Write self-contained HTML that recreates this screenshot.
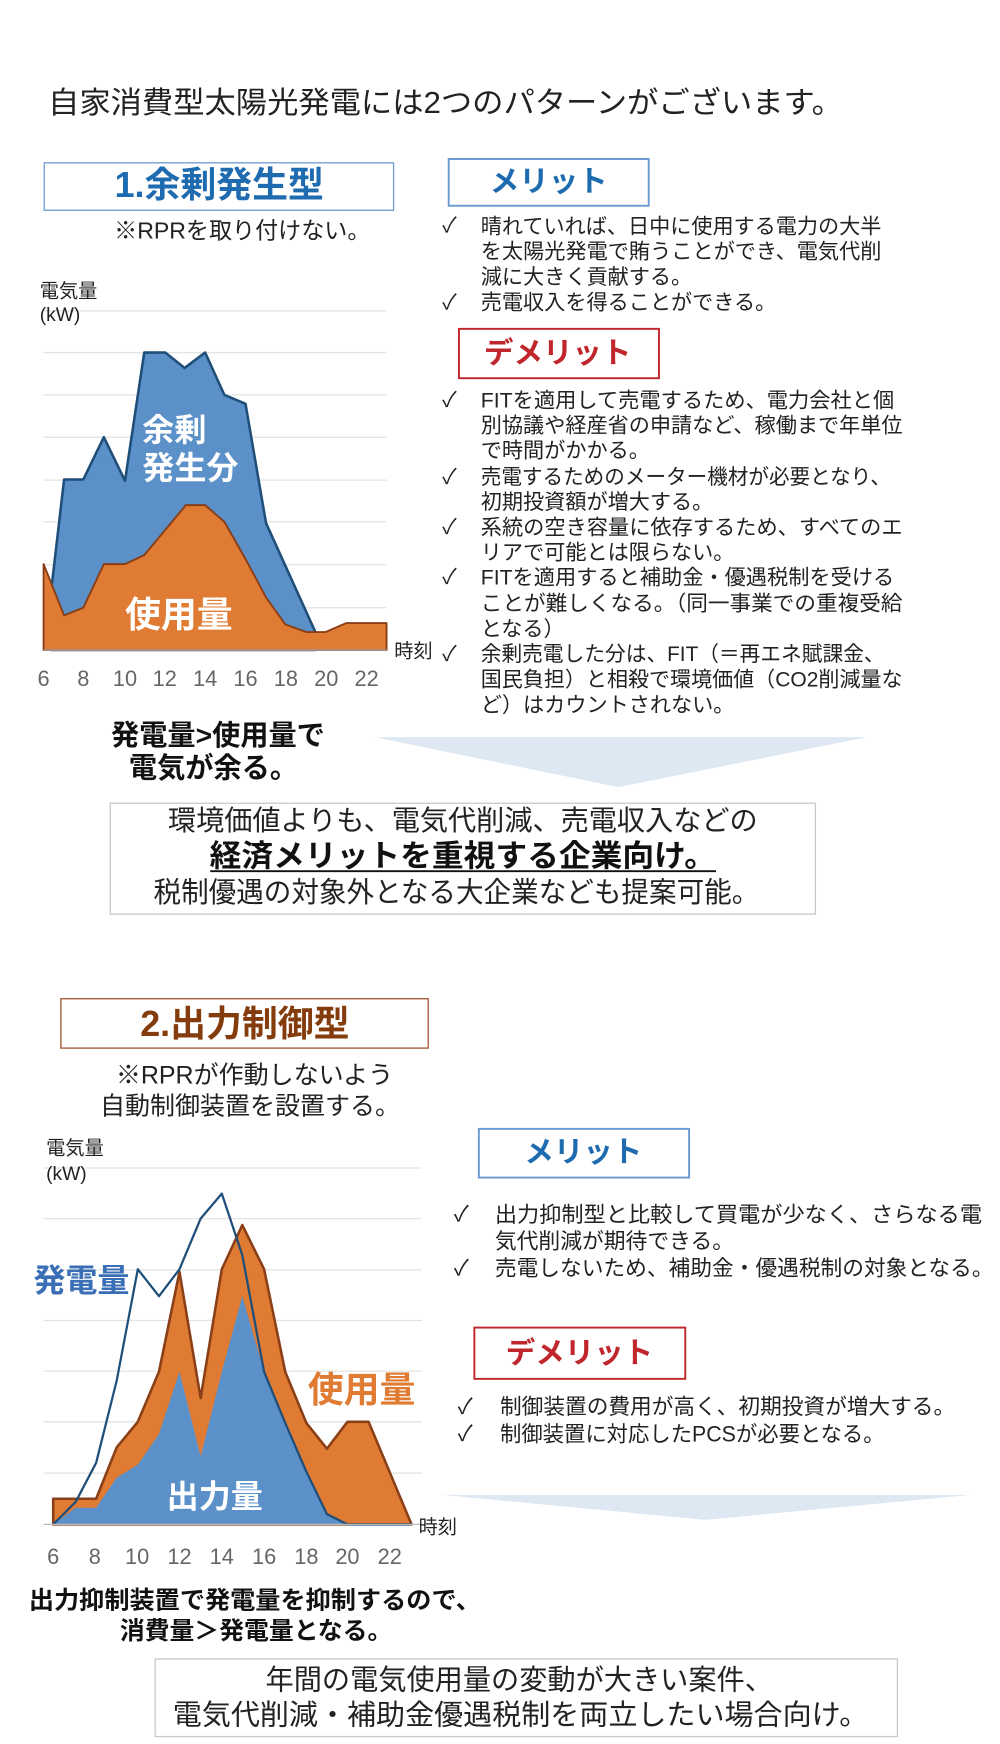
<!DOCTYPE html>
<html><head><meta charset="utf-8"><style>
html,body{margin:0;padding:0;background:#fff;}
body{width:1000px;height:1744px;position:relative;overflow:hidden;font-family:"Liberation Sans","Noto Sans CJK JP",sans-serif;}
svg{position:absolute;left:0;}
text{font-family:"Liberation Sans","Noto Sans CJK JP",sans-serif;}
</style></head><body>
<svg style="top:0" width="1000" height="800" viewBox="0 0 1560 1248">
<text x="75" y="176" font-size="47" fill="#222" textLength="1240" lengthAdjust="spacingAndGlyphs">自家消費型太陽光発電には2つのパターンがございます。</text>
<rect x="69" y="254" width="545" height="74" fill="#fff" stroke="#6a9ad0" stroke-width="2"/>
<text x="342" y="307" font-size="56" font-weight="bold" fill="#1f6bb0" text-anchor="middle">1.余剰発生型</text>
<text x="378" y="372" font-size="36" fill="#222" text-anchor="middle">※RPRを取り付けない。</text>
<rect x="700" y="248" width="312" height="73" fill="#fff" stroke="#6a9ad0" stroke-width="3"/>
<text x="856" y="299" font-size="46" font-weight="bold" fill="#1f6bb0" text-anchor="middle">メリット</text>
<g font-size="33" fill="#222">
<text x="690" y="362">✓</text><text x="750" y="364" textLength="625" lengthAdjust="spacingAndGlyphs">晴れていれば、日中に使用する電力の大半</text>
<text x="750" y="403" textLength="625" lengthAdjust="spacingAndGlyphs">を太陽光発電で賄うことができ、電気代削</text>
<text x="750" y="443">減に大きく貢献する。</text>
<text x="690" y="482">✓</text><text x="750" y="483">売電収入を得ることができる。</text>
</g>
<rect x="716" y="513" width="312" height="77" fill="#fff" stroke="#c0272d" stroke-width="3"/>
<text x="870" y="566" font-size="46" font-weight="bold" fill="#c0272d" text-anchor="middle">デメリット</text>
<g font-size="33" fill="#222">
<text x="690" y="634">✓</text><text x="750" y="636" textLength="645" lengthAdjust="spacingAndGlyphs">FITを適用して売電するため、電力会社と個</text>
<text x="750" y="675" textLength="658" lengthAdjust="spacingAndGlyphs">別協議や経産省の申請など、稼働まで年単位</text>
<text x="750" y="714">で時間がかかる。</text>
<text x="690" y="754">✓</text><text x="750" y="755" textLength="640" lengthAdjust="spacingAndGlyphs">売電するためのメーター機材が必要となり、</text>
<text x="750" y="794">初期投資額が増大する。</text>
<text x="690" y="832">✓</text><text x="750" y="834" textLength="658" lengthAdjust="spacingAndGlyphs">系統の空き容量に依存するため、すべてのエ</text>
<text x="750" y="873">リアで可能とは限らない。</text>
<text x="690" y="910">✓</text><text x="750" y="912" textLength="645" lengthAdjust="spacingAndGlyphs">FITを適用すると補助金・優遇税制を受ける</text>
<text x="750" y="952" textLength="658" lengthAdjust="spacingAndGlyphs">ことが難しくなる。（同一事業での重複受給</text>
<text x="750" y="992">となる）</text>
<text x="690" y="1030">✓</text><text x="750" y="1031" textLength="630" lengthAdjust="spacingAndGlyphs">余剰売電した分は、FIT（＝再エネ賦課金、</text>
<text x="750" y="1071" textLength="658" lengthAdjust="spacingAndGlyphs">国民負担）と相殺で環境価値（CO2削減量な</text>
<text x="750" y="1111">ど）はカウントされない。</text>
</g>
<g stroke="#e3e3e3" stroke-width="2">
<line x1="68" y1="485" x2="603" y2="485"/><line x1="68" y1="550" x2="603" y2="550"/><line x1="68" y1="616" x2="603" y2="616"/><line x1="68" y1="682" x2="603" y2="682"/><line x1="68" y1="749" x2="603" y2="749"/><line x1="68" y1="814" x2="603" y2="814"/><line x1="68" y1="881" x2="603" y2="881"/><line x1="68" y1="948" x2="603" y2="948"/>
</g>
<polygon points="80,1014 80,920 100,748 130,748 162,682 195,750 225,550 258,550 288,574 320,550 350,616 383,630 415,816 492,986 492,1014" fill="#5b91c8" stroke="#1f4e79" stroke-width="4" stroke-linejoin="round"/>
<polygon points="68,880 100,960 130,948 162,880 195,880 225,866 290,788 320,788 350,814 383,872 415,932 445,974 478,986 508,986 540,972 603,972 603,1014 68,1014" fill="#e07b33" stroke="#8a3f17" stroke-width="3" stroke-linejoin="round"/>
<line x1="68" y1="1014" x2="603" y2="1014" stroke="#bbb" stroke-width="2"/>
<text x="62" y="464" font-size="30" fill="#222">電気量</text>
<text x="62" y="501" font-size="30" fill="#222">(kW)</text>
<text x="222" y="688" font-size="50" font-weight="bold" fill="#fff">余剰</text>
<text x="222" y="747" font-size="50" font-weight="bold" fill="#fff">発生分</text>
<text x="195" y="978" font-size="56" font-weight="bold" fill="#fff">使用量</text>
<text x="615" y="1026" font-size="30" fill="#222">時刻</text>
<g font-size="34" fill="#666" text-anchor="middle">
<text x="68" y="1070">6</text><text x="130" y="1070">8</text><text x="195" y="1070">10</text><text x="257" y="1070">12</text><text x="320" y="1070">14</text><text x="383" y="1070">16</text><text x="446" y="1070">18</text><text x="509" y="1070">20</text><text x="572" y="1070">22</text>
</g>
<text x="340" y="1162" font-size="44" font-weight="bold" fill="#111" text-anchor="middle">発電量&gt;使用量で</text>
<text x="333" y="1213" font-size="44" font-weight="bold" fill="#111" text-anchor="middle">電気が余る。</text>
<polygon points="585,1150 1352,1150 965,1228" fill="#dde8f3"/>
</svg>
<svg style="top:800px" width="1000" height="944" viewBox="0 0 1560 1472.6">
<rect x="172" y="5" width="1100" height="173" fill="#fff" stroke="#c8c8c8" stroke-width="2"/>
<text x="722" y="47" font-size="43" fill="#222" text-anchor="middle" textLength="920" lengthAdjust="spacingAndGlyphs">環境価値よりも、電気代削減、売電収入などの</text>
<text x="722" y="104" font-size="48" font-weight="bold" fill="#111" text-anchor="middle" textLength="790" lengthAdjust="spacingAndGlyphs">経済メリットを重視する企業向け。</text>
<line x1="328" y1="111" x2="1117" y2="111" stroke="#111" stroke-width="3"/>
<text x="712" y="159" font-size="44" fill="#222" text-anchor="middle" textLength="945" lengthAdjust="spacingAndGlyphs">税制優遇の対象外となる大企業なども提案可能。</text>
<rect x="95" y="310" width="573" height="77" fill="#fff" stroke="#a0522d" stroke-width="2"/>
<text x="382" y="368" font-size="56" font-weight="bold" fill="#843c0c" text-anchor="middle">2.出力制御型</text>
<text x="397" y="442" font-size="39" fill="#222" text-anchor="middle">※RPRが作動しないよう</text>
<text x="390" y="491" font-size="39" fill="#222" text-anchor="middle">自動制御装置を設置する。</text>
<rect x="747" y="513" width="328" height="76" fill="#fff" stroke="#6a9ad0" stroke-width="3"/>
<text x="910" y="565" font-size="46" font-weight="bold" fill="#1f6bb0" text-anchor="middle">メリット</text>
<g font-size="34" fill="#222">
<text x="708" y="657">✓</text><text x="772" y="658" textLength="760" lengthAdjust="spacingAndGlyphs">出力抑制型と比較して買電が少なく、さらなる電</text>
<text x="772" y="700">気代削減が期待できる。</text>
<text x="708" y="741">✓</text><text x="772" y="742" textLength="778" lengthAdjust="spacingAndGlyphs">売電しないため、補助金・優遇税制の対象となる。</text>
</g>
<rect x="740" y="823" width="329" height="80" fill="#fff" stroke="#c0272d" stroke-width="3"/>
<text x="904" y="878" font-size="46" font-weight="bold" fill="#c0272d" text-anchor="middle">デメリット</text>
<g font-size="34" fill="#222">
<text x="714" y="957">✓</text><text x="780" y="958" textLength="710" lengthAdjust="spacingAndGlyphs">制御装置の費用が高く、初期投資が増大する。</text>
<text x="714" y="999">✓</text><text x="780" y="1001" textLength="600" lengthAdjust="spacingAndGlyphs">制御装置に対応したPCSが必要となる。</text>
</g>
<g stroke="#e3e3e3" stroke-width="2">
<line x1="68" y1="574" x2="658" y2="574"/><line x1="68" y1="653" x2="658" y2="653"/><line x1="68" y1="733" x2="658" y2="733"/><line x1="68" y1="812" x2="658" y2="812"/><line x1="68" y1="891" x2="658" y2="891"/><line x1="68" y1="970" x2="658" y2="970"/><line x1="68" y1="1050" x2="658" y2="1050"/>
</g>
<polygon points="83,1090 150,1090 182,1010 215,970 248,892 280,736 313,933 346,732 378,663 412,732 445,892 478,972 510,1012 542,970 575,970 642,1130 83,1130" fill="#e07b33" stroke="#8a3f17" stroke-width="4" stroke-linejoin="round"/>
<polygon points="83,1130 118,1104 150,1104 182,1057 215,1037 248,989 280,892 313,1024 346,892 378,774 412,892 445,972 478,1048 510,1114 542,1130" fill="#5b91c8"/>
<polyline points="83,1130 118,1095 150,1034 182,906 215,732 248,774 280,732 313,653 346,614 378,710 412,892 445,972 478,1048 510,1114 542,1130 642,1130" fill="none" stroke="#1f4e79" stroke-width="3.5" stroke-linejoin="round"/>
<line x1="68" y1="1130" x2="658" y2="1130" stroke="#bbb" stroke-width="2"/>
<text x="72" y="553" font-size="30" fill="#222">電気量</text>
<text x="72" y="593" font-size="30" fill="#222">(kW)</text>
<text x="52" y="767" font-size="50" font-weight="bold" fill="#3a6eb5">発電量</text>
<text x="480" y="939" font-size="56" font-weight="bold" fill="#e07b33">使用量</text>
<text x="260" y="1104" font-size="50" font-weight="bold" fill="#fff">出力量</text>
<text x="653" y="1144" font-size="30" fill="#222">時刻</text>
<g font-size="34" fill="#666" text-anchor="middle">
<text x="83" y="1192">6</text><text x="148" y="1192">8</text><text x="214" y="1192">10</text><text x="280" y="1192">12</text><text x="346" y="1192">14</text><text x="412" y="1192">16</text><text x="478" y="1192">18</text><text x="542" y="1192">20</text><text x="608" y="1192">22</text>
</g>
<polygon points="690,1084 1515,1084 1100,1123" fill="#dde8f3"/>
<text x="45" y="1261" font-size="38" font-weight="bold" fill="#111" textLength="705" lengthAdjust="spacingAndGlyphs">出力抑制装置で発電量を抑制するので、</text>
<text x="187" y="1309" font-size="38" font-weight="bold" fill="#111" textLength="425" lengthAdjust="spacingAndGlyphs">消費量＞発電量となる。</text>
<rect x="242" y="1340" width="1158" height="121" fill="#fff" stroke="#c8c8c8" stroke-width="2"/>
<text x="810" y="1388" font-size="44" fill="#222" text-anchor="middle">年間の電気使用量の変動が大きい案件、</text>
<text x="812" y="1442" font-size="44" fill="#222" text-anchor="middle" textLength="1085" lengthAdjust="spacingAndGlyphs">電気代削減・補助金優遇税制を両立したい場合向け。</text>
</svg>
</body></html>
